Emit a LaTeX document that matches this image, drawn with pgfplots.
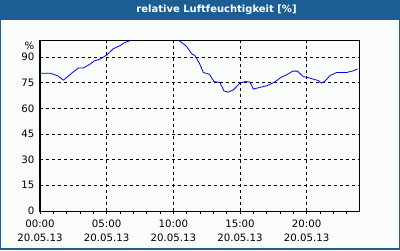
\documentclass[border=0pt]{standalone}
\usepackage{pgfplots}
\pgfplotsset{compat=1.18}
\usepackage{fontspec}
\setmainfont{DejaVu Sans}
\definecolor{frameblue}{RGB}{28,94,148}
\definecolor{bgc}{RGB}{250,252,250}
\begin{document}
\begin{tikzpicture}[x=1pt,y=1pt]
\useasboundingbox (0,0) rectangle (400,250);
\fill[frameblue] (0,0) rectangle (400,250);
\fill[bgc] (1,2) rectangle (398.5,230);
\node[text=white,font=\fontsize{10}{11}\selectfont\bfseries] at (216.5,240) {relative Luftfeuchtigkeit [\%]};
\node[anchor=east,inner sep=0pt,font=\fontsize{10.2}{12}\selectfont] at (34.5,204.5) {\%};
\begin{axis}[
  at={(40pt,39pt)}, anchor=south west,
  scale only axis, width=320pt, height=171pt,
  xmin=0, xmax=24, ymin=0, ymax=100,
  axis line style={black, line width=1pt},
  xtick={0,5,10,15,20},
  xticklabels={{00:00\\20.05.13},{05:00\\20.05.13},{10:00\\20.05.13},{15:00\\20.05.13},{20:00\\20.05.13}},
  minor xtick={1,2,3,4,6,7,8,9,11,12,13,14,16,17,18,19,21,22,23},
  ytick={0,15,30,45,60,75,90},
  x tick style={black, line width=0.8pt},
  xtick pos=bottom,
  xtick align=outside,
  major tick length=3pt, minor tick length=3pt,
  ytick style={draw=none},
  grid=major,
  major grid style={black, line width=0.8pt, dash pattern=on 3pt off 3pt},
  tick label style={font=\fontsize{10.2}{14}\selectfont},
  xticklabel style={align=center, inner sep=0pt, yshift=-6pt},
  yticklabel style={inner sep=0pt, xshift=-5.5pt},
  /pgf/number format/assume math mode=true,
  clip=true,
]
\addplot[blue, line width=0.8pt] coordinates {
(0,80.6) (0.75,80.6) (1.0,80.0) (1.37,78.9) (1.75,76.5) (2.0,78.1) (2.38,80.6)
(2.87,83.6) (3.25,83.6) (3.75,85.9) (4.1,87.9) (4.5,88.8) (5.0,91.2) (5.5,94.9)
(6.0,96.7) (6.37,98.6) (6.75,99.6) (7.0,100.6) (8.5,101) (10.2,100.6) (10.37,100)
(10.75,97.8) (11.0,96.2) (11.37,92.0) (11.6,91.0) (11.95,86.5) (12.25,81.0)
(12.7,80.0) (13.05,75.7) (13.5,75.1) (13.8,70.2) (14.1,69.5) (14.5,70.8)
(15.0,74.8) (15.4,75.7) (15.75,75.4) (16.0,71.3) (16.5,72.3) (17.0,73.2)
(17.6,75.4) (18.1,78.3) (18.5,79.6) (18.95,81.8) (19.3,81.8) (19.75,78.6)
(20.1,78.1) (20.5,77.1) (20.87,76.3) (21.1,74.8) (21.4,76.1) (21.75,79.2)
(22.25,81.0) (23.0,81.0) (23.5,82.0) (23.8,83.0)
};
\end{axis}
\end{tikzpicture}
\end{document}
